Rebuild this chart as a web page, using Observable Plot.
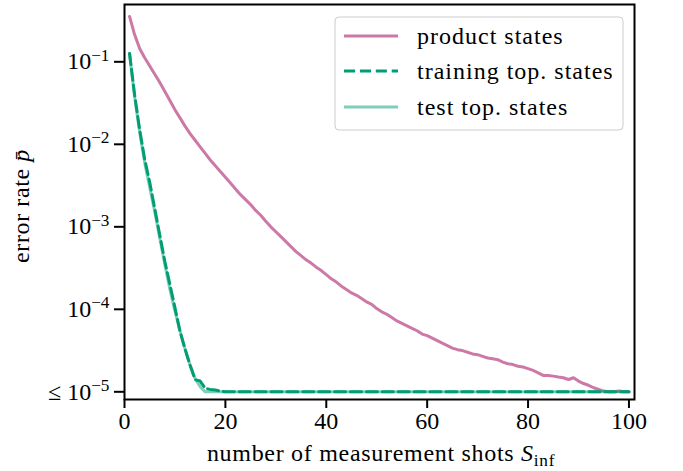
<!DOCTYPE html>
<html><head><meta charset="utf-8">
<script src="https://cdn.jsdelivr.net/npm/d3@7"></script>
<script src="https://cdn.jsdelivr.net/npm/@observablehq/plot@0.6"></script>
<style>
html,body{margin:0;padding:0;background:#fff;}
#chart svg{display:block;}
#chart svg text{font-family:"Liberation Serif","DejaVu Serif",serif !important;}
</style></head><body><div id="chart"></div>
<script>
// x values: number of measurement shots
const shots = [1,2,3,4,5,6,7,8,9,10,11,12,13,14,15,16,17,18,19,20,
  21,22,23,24,25,26,27,28,29,30,31,32,33,34,35,36,37,38,39,40,
  41,42,43,44,45,46,47,48,49,50,51,52,53,54,55,56,57,58,59,60,
  61,62,63,64,65,66,67,68,69,70,71,72,73,74,75,76,77,78,79,80,
  81,82,83,84,85,86,87,88,89,90,91,92,93,94,95,96,97,98,99,100];

// error rate, product states
const productStates = [0.355,0.214,0.145,0.112,0.0891,0.0708,0.0562,0.0437,0.0339,0.0263,
  0.0209,0.0166,0.0135,0.0112,0.00933,0.00776,0.00646,0.00550,0.00468,0.00398,
  0.00339,0.00288,0.00245,0.00214,0.00186,0.00158,0.00138,0.00117,0.00100,8.71e-4,
  7.59e-4,6.61e-4,5.75e-4,5.01e-4,4.47e-4,3.98e-4,3.63e-4,3.24e-4,2.95e-4,2.63e-4,
  2.34e-4,2.14e-4,1.91e-4,1.74e-4,1.58e-4,1.48e-4,1.35e-4,1.23e-4,1.15e-4,1.02e-4,
  9.33e-5,8.71e-5,7.94e-5,7.24e-5,6.76e-5,6.31e-5,5.89e-5,5.50e-5,5.01e-5,4.79e-5,
  4.47e-5,4.17e-5,3.89e-5,3.63e-5,3.39e-5,3.24e-5,3.16e-5,3.02e-5,2.88e-5,2.82e-5,
  2.69e-5,2.57e-5,2.51e-5,2.45e-5,2.29e-5,2.19e-5,2.14e-5,2.04e-5,2.00e-5,1.91e-5,
  1.82e-5,1.70e-5,1.58e-5,1.58e-5,1.55e-5,1.51e-5,1.48e-5,1.41e-5,1.48e-5,1.35e-5,
  1.26e-5,1.20e-5,1.12e-5,1.07e-5,1.02e-5,1.00e-5,1.00e-5,1.02e-5,1.00e-5,1.00e-5];

// error rate, training topological states
const trainingStates = [0.126,0.040,0.0151,0.0066,0.00347,0.00166,7.9e-4,3.8e-4,2.0e-4,1.05e-4,
  5.4e-5,3.3e-5,2.1e-5,1.4e-5,1.35e-5,1.10e-5,1.07e-5,1.05e-5,1.02e-5,1e-5,
  1e-5,1e-5,1e-5,1e-5,1e-5,1e-5,1e-5,1e-5,1e-5,1e-5,
  1e-5,1e-5,1e-5,1e-5,1e-5,1e-5,1e-5,1e-5,1e-5,1e-5,
  1e-5,1e-5,1e-5,1e-5,1e-5,1e-5,1e-5,1e-5,1e-5,1e-5,
  1e-5,1e-5,1e-5,1e-5,1e-5,1e-5,1e-5,1e-5,1e-5,1e-5,
  1e-5,1e-5,1e-5,1e-5,1e-5,1e-5,1e-5,1e-5,1e-5,1e-5,
  1e-5,1e-5,1e-5,1e-5,1e-5,1e-5,1e-5,1e-5,1e-5,1e-5,
  1e-5,1e-5,1e-5,1e-5,1e-5,1e-5,1e-5,1e-5,1e-5,1e-5,
  1e-5,1e-5,1e-5,1e-5,1e-5,1e-5,1e-5,1e-5,1e-5,1e-5];

// error rate, test topological states
const testStates = [0.126,0.038,0.0141,0.0060,0.0030,0.00151,7.2e-4,3.5e-4,1.74e-4,9.5e-5,
  5.5e-5,3.3e-5,2.1e-5,1.45e-5,1.15e-5,1e-5,1e-5,1e-5,1e-5,1e-5,
  1e-5,1e-5,1e-5,1e-5,1e-5,1e-5,1e-5,1e-5,1e-5,1e-5,
  1e-5,1e-5,1e-5,1e-5,1e-5,1e-5,1e-5,1e-5,1e-5,1e-5,
  1e-5,1e-5,1e-5,1e-5,1e-5,1e-5,1e-5,1e-5,1e-5,1e-5,
  1e-5,1e-5,1e-5,1e-5,1e-5,1e-5,1e-5,1e-5,1e-5,1e-5,
  1e-5,1e-5,1e-5,1e-5,1e-5,1e-5,1e-5,1e-5,1e-5,1e-5,
  1e-5,1e-5,1e-5,1e-5,1e-5,1e-5,1e-5,1e-5,1e-5,1e-5,
  1e-5,1e-5,1e-5,1e-5,1e-5,1e-5,1e-5,1e-5,1e-5,1e-5,
  1e-5,1e-5,1e-5,1e-5,1e-5,1e-5,1e-5,1e-5,1e-5,1e-5];

const xTicks = [0, 20, 40, 60, 80, 100];
const yTicks = [1e-1, 1e-2, 1e-3, 1e-4, 1e-5];
const yTickLabels = ["10|−1", "10|−2", "10|−3", "10|−4", "≤ 10|−5"];
const seriesNames = ["product states", "training top. states", "test top. states"];

const rows = shots.map((s, i) => ({s, product: productStates[i], train: trainingStates[i], test: testStates[i]}));

const FONT = "Liberation Serif";
const PINK = "#cc79a7", GREEN = "#009e73";

const plot = Plot.plot({
  width: 683,
  height: 471,
  marginLeft: 124,
  marginRight: 49,
  marginTop: 4,
  marginBottom: 72,
  style: {fontFamily: FONT, fontSize: "24px", background: "#fff", color: "#000"},
  x: {domain: [0, 101.1]},
  y: {type: "log", domain: [8.07e-6, 0.495]},
  marks: [
    Plot.line(rows, {x: "s", y: "product", stroke: PINK, strokeWidth: 3}),
    Plot.line(rows, {x: "s", y: "train", stroke: GREEN, strokeWidth: 3, strokeDasharray: "11.1,4.8"}),
    Plot.line(rows, {x: "s", y: "test", stroke: GREEN, strokeOpacity: 0.5, strokeWidth: 3}),
    Plot.axisX({ticks: xTicks, tickSize: 9, tickPadding: 3, strokeWidth: 2, label: null, fontSize: 24}),
    Plot.axisY({ticks: yTicks, tickSize: 10, tickPadding: 5, strokeWidth: 2, label: null, fontSize: 24,
      tickFormat: d => yTickLabels[yTicks.indexOf(d)]}),
    Plot.frame({stroke: "#000", strokeWidth: 2})
  ]
});
document.getElementById("chart").appendChild(plot);

const svg = d3.select(plot);
// superscript exponents on y tick labels
svg.selectAll('g[aria-label="y-axis tick label"] text').each(function() {
  const t = d3.select(this);
  const parts = t.text().split("|");
  t.text(parts[0]);
  t.append("tspan").attr("dy", "-0.5em").attr("font-size", "0.72em").text(parts[1]);
});

// axis labels
const xl = svg.append("text").attr("x", 381).attr("y", 461).attr("text-anchor", "middle")
  .attr("font-size", 24).attr("letter-spacing", "0.7px").attr("fill", "#000");
xl.append("tspan").text("number of measurement shots ");
xl.append("tspan").attr("font-style", "italic").text("S");
xl.append("tspan").attr("dy", "0.3em").attr("font-size", "0.72em").text("inf");

const yl = svg.append("text").attr("transform", "translate(29,206) rotate(-90)").attr("text-anchor", "middle")
  .attr("font-size", 24).attr("letter-spacing", "0.6px").attr("fill", "#000");
yl.append("tspan").text("error rate ");
yl.append("tspan").attr("font-style", "italic").text("p\u0304");

// legend
const lg = svg.append("g");
lg.append("rect").attr("x", 335).attr("y", 17).attr("width", 288).attr("height", 113).attr("rx", 4)
  .attr("fill", "#fff").attr("fill-opacity", 0.8).attr("stroke", "#cccccc").attr("stroke-width", 1);
const legendY = [36, 71, 107];
const legendStyles = [
  {stroke: PINK, opacity: 1, dash: null},
  {stroke: GREEN, opacity: 1, dash: "11.1,4.8"},
  {stroke: GREEN, opacity: 0.5, dash: null}
];
seriesNames.forEach((name, i) => {
  const st = legendStyles[i];
  const ln = lg.append("line").attr("x1", 344).attr("x2", 398).attr("y1", legendY[i]).attr("y2", legendY[i])
    .attr("stroke", st.stroke).attr("stroke-opacity", st.opacity).attr("stroke-width", 3);
  if (st.dash) ln.attr("stroke-dasharray", st.dash);
  lg.append("text").attr("x", 417).attr("y", legendY[i]).attr("dy", "0.32em").attr("text-anchor", "start")
    .attr("font-size", 24).attr("letter-spacing", "1px").attr("fill", "#000").text(name);
});
</script>
</body></html>
